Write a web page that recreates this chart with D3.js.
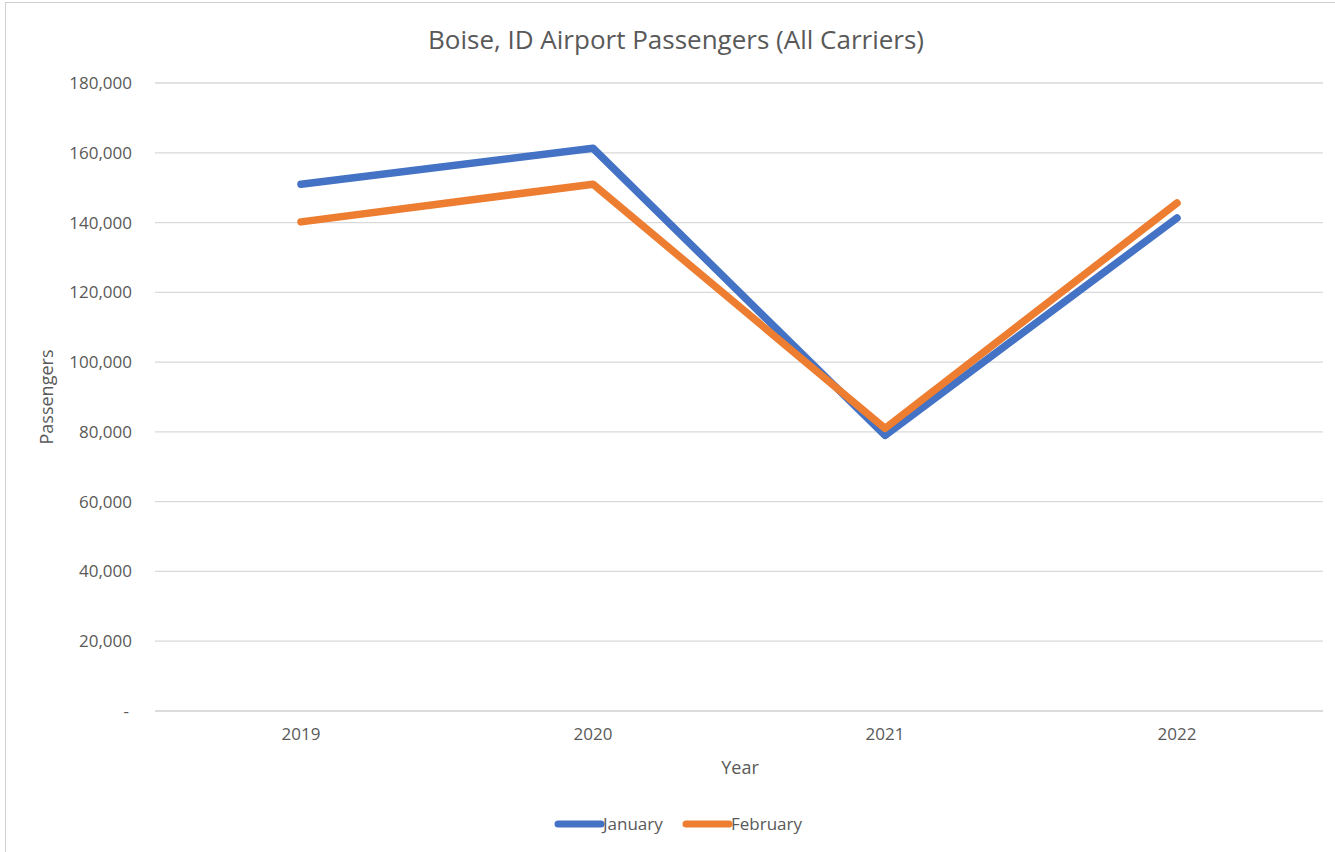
<!DOCTYPE html>
<html>
<head>
<meta charset="utf-8">
<script src="https://cdn.jsdelivr.net/npm/d3@7"></script>
<style>
  body { margin: 0; background: #fff; }
  text { font-family: "Open Sans", "Noto Sans", sans-serif; fill: #595959; }
</style>
</head>
<body>
<script>
var years = ["2019", "2020", "2021", "2022"];
var january = [151000, 161300, 79000, 141300];
var february = [140200, 151000, 81000, 145600];
var yTicks = [0, 20000, 40000, 60000, 80000, 100000, 120000, 140000, 160000, 180000];

var width = 1335, height = 852;
var plotLeft = 155, plotRight = 1323, plotTop = 83, plotBottom = 711;

var svg = d3.select("body").append("svg")
    .attr("width", width)
    .attr("height", height);

// outer chart border
svg.append("rect")
    .attr("x", 5.5).attr("y", 2.5)
    .attr("width", width).attr("height", height)
    .attr("fill", "none")
    .attr("stroke", "#d0d0d0");

var x = d3.scaleBand().domain(years).range([plotLeft, plotRight]);
var y = d3.scaleLinear().domain([0, 180000]).range([plotBottom, plotTop]);

// gridlines
svg.append("g")
    .selectAll("line")
    .data(yTicks)
    .enter()
    .append("line")
    .attr("x1", plotLeft).attr("x2", plotRight)
    .attr("y1", d => y(d)).attr("y2", d => y(d))
    .attr("stroke", d => d === 0 ? "#d0d0d0" : "#d9d9d9")
    .attr("stroke-width", 1.3);

// y axis labels
var yAxis = d3.axisLeft(y)
    .tickValues(yTicks)
    .tickSize(0)
    .tickPadding(0)
    .tickFormat(d => d === 0 ? "-" : d3.format(",")(d));
var gy = svg.append("g").attr("transform", "translate(" + 132 + ",0)").call(yAxis);
gy.select(".domain").remove();
gy.selectAll("text").style("font-size", "17px").attr("fill", "#595959")
    .attr("dx", d => d === 0 ? -3 : 0);

// x axis labels
var xAxis = d3.axisBottom(x).tickSize(0).tickPadding(0);
var gx = svg.append("g").attr("transform", "translate(0," + 728 + ")").call(xAxis);
gx.select(".domain").remove();
gx.selectAll("text").style("font-size", "17px").attr("fill", "#595959");

// lines
var line = d3.line()
    .x((d, i) => x(years[i]) + x.bandwidth() / 2)
    .y(d => y(d));

var series = [
    { name: "January", values: january, color: "#4472C4" },
    { name: "February", values: february, color: "#ED7D31" }
];

svg.append("g")
    .selectAll("path")
    .data(series)
    .enter()
    .append("path")
    .attr("d", d => line(d.values))
    .attr("fill", "none")
    .attr("stroke", d => d.color)
    .attr("stroke-width", 7.5)
    .attr("stroke-linecap", "round")
    .attr("stroke-linejoin", "round");

// title
svg.append("text")
    .attr("x", 676).attr("y", 49)
    .attr("text-anchor", "middle")
    .style("font-size", "26px")
    .text("Boise, ID Airport Passengers (All Carriers)");

// axis titles
svg.append("text")
    .attr("x", 740).attr("y", 774)
    .attr("text-anchor", "middle")
    .style("font-size", "18px")
    .text("Year");

svg.append("text")
    .attr("transform", "translate(53,397) rotate(-90)")
    .attr("text-anchor", "middle")
    .style("font-size", "18px")
    .text("Passengers");

// legend
var lg = svg.append("g")
    .selectAll("g")
    .data(series)
    .enter()
    .append("g")
    .attr("transform", (d, i) => "translate(" + (i === 0 ? 558 : 686) + ",824)");
lg.append("line")
    .attr("x1", 0).attr("x2", 43)
    .attr("stroke", d => d.color)
    .attr("stroke-width", 7)
    .attr("stroke-linecap", "round");
lg.append("text")
    .attr("x", 45).attr("y", 6)
    .style("font-size", "17px")
    .text(d => d.name);
</script>
</body>
</html>
